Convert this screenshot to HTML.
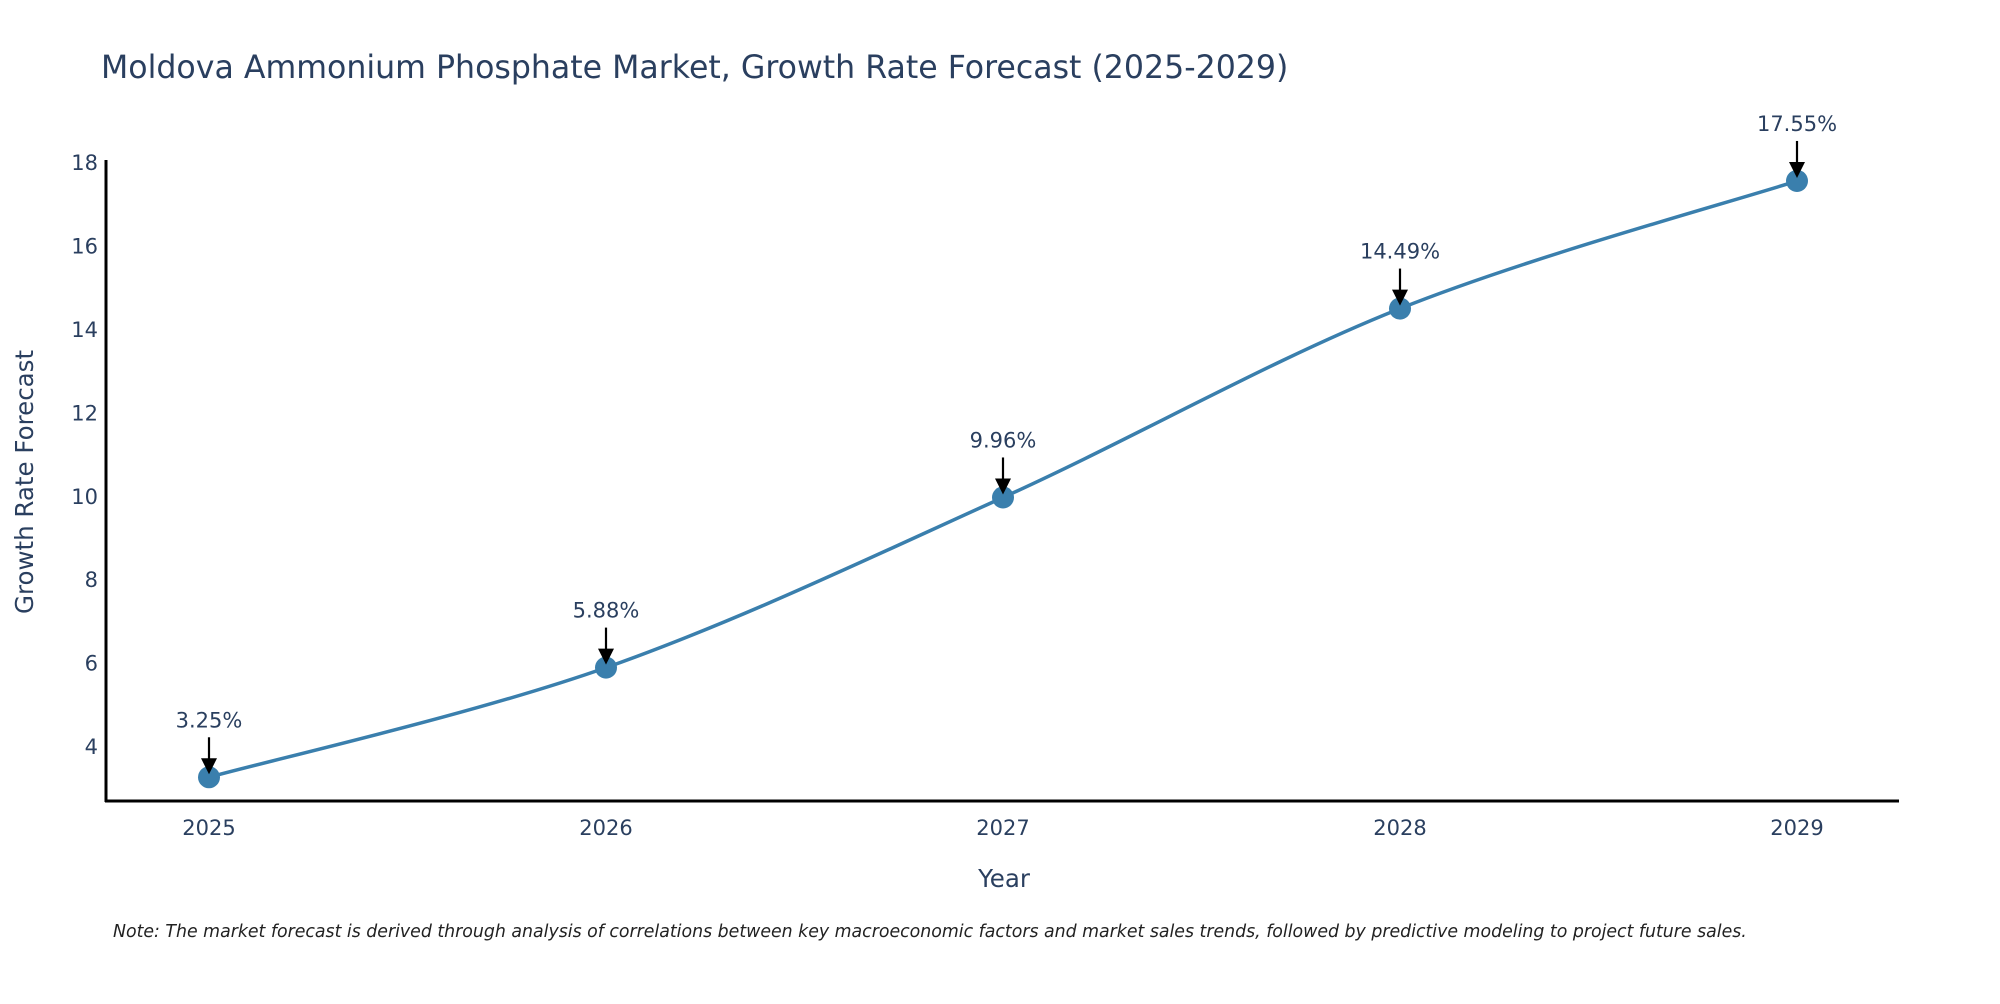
<!DOCTYPE html>
<html><head><meta charset="utf-8"><style>
body{margin:0;background:#fff;width:2000px;height:1000px;overflow:hidden;font-family:"DejaVu Sans",sans-serif}
svg text{font-family:"DejaVu Sans",sans-serif}
</style></head><body>
<svg id="chart" width="2000" height="1000">
<text x="101" y="78" font-size="31.6" fill="#2a3f5f">Moldova Ammonium Phosphate Market, Growth Rate Forecast (2025-2029)</text>
<g id="yticks"></g>
<g id="xticks"></g>
<line x1="106" y1="160" x2="106" y2="802" stroke="#000" stroke-width="3"/>
<line x1="105" y1="801" x2="1899" y2="801" stroke="#000" stroke-width="3"/>
<path id="line" fill="none" stroke="#3a7fad" stroke-width="3.5"/>
<g id="marks"></g>
<text x="1004" y="887" font-size="24.5" fill="#2a3f5f" text-anchor="middle">Year</text>
<text transform="translate(33,482) rotate(-90)" font-size="24.5" fill="#2a3f5f" text-anchor="middle">Growth Rate Forecast</text>
<text x="113" y="937" font-size="17.35" font-style="italic" fill="#222">Note: The market forecast is derived through analysis of correlations between key macroeconomic factors and market sales trends, followed by predictive modeling to project future sales.</text>
</svg>
<script>
const years=[2025,2026,2027,2028,2029];
const values=[3.25,5.88,9.96,14.49,17.55];
const labels=["3.25%","5.88%","9.96%","14.49%","17.55%"];
const yTicks=[4,6,8,10,12,14,16,18];
const NS="http://www.w3.org/2000/svg";
const xs=y=>209+(y-2025)*397;
const ys=v=>746-(v-4)*41.7;
const yt=document.getElementById('yticks');
yTicks.forEach(t=>{const e=document.createElementNS(NS,'text');


e.setAttribute('x',98);e.setAttribute('y',ys(t)+8);e.setAttribute('text-anchor','end');e.setAttribute('font-size','21');e.setAttribute('fill','#2a3f5f');e.textContent=t;yt.appendChild(e);});
const xt=document.getElementById('xticks');
years.forEach(t=>{const e=document.createElementNS(NS,'text');


e.setAttribute('x',xs(t));e.setAttribute('y',835);e.setAttribute('text-anchor','middle');e.setAttribute('font-size','21');e.setAttribute('fill','#2a3f5f');e.textContent=t;xt.appendChild(e);});
const P=years.map((y,i)=>[xs(y),ys(values[i])]);
let d=`M${P[0][0]},${P[0][1]}`;
for(let i=0;i<P.length-1;i++){const p0=P[i-1]||P[i],p1=P[i],p2=P[i+1],p3=P[i+2]||P[i+1];
d+=` C${p1[0]+(p2[0]-p0[0])/6},${p1[1]+(p2[1]-p0[1])/6} ${p2[0]-(p3[0]-p1[0])/6},${p2[1]-(p3[1]-p1[1])/6} ${p2[0]},${p2[1]}`;}
document.getElementById('line').setAttribute('d',d);
const g=document.getElementById('marks');
P.forEach((p,i)=>{
const c=document.createElementNS(NS,'circle');


c.setAttribute('cx',p[0]);c.setAttribute('cy',p[1]);c.setAttribute('r',11);c.setAttribute('fill','#3a7fad');g.appendChild(c);
const l=document.createElementNS(NS,'line');


l.setAttribute('x1',p[0]);l.setAttribute('y1',p[1]-40);l.setAttribute('x2',p[0]);l.setAttribute('y2',p[1]-14);l.setAttribute('stroke','#000');l.setAttribute('stroke-width','2.2');g.appendChild(l);
const h=document.createElementNS(NS,'path');


h.setAttribute('d',`M${p[0]-8},${p[1]-19} L${p[0]+8},${p[1]-19} L${p[0]},${p[1]-3} Z`);h.setAttribute('fill','#000');g.appendChild(h);
const t=document.createElementNS(NS,'text');


t.setAttribute('x',p[0]);t.setAttribute('y',p[1]-50);t.setAttribute('text-anchor','middle');t.setAttribute('font-size','21');t.setAttribute('fill','#2a3f5f');t.textContent=labels[i];g.appendChild(t);
});
</script>
</body></html>
